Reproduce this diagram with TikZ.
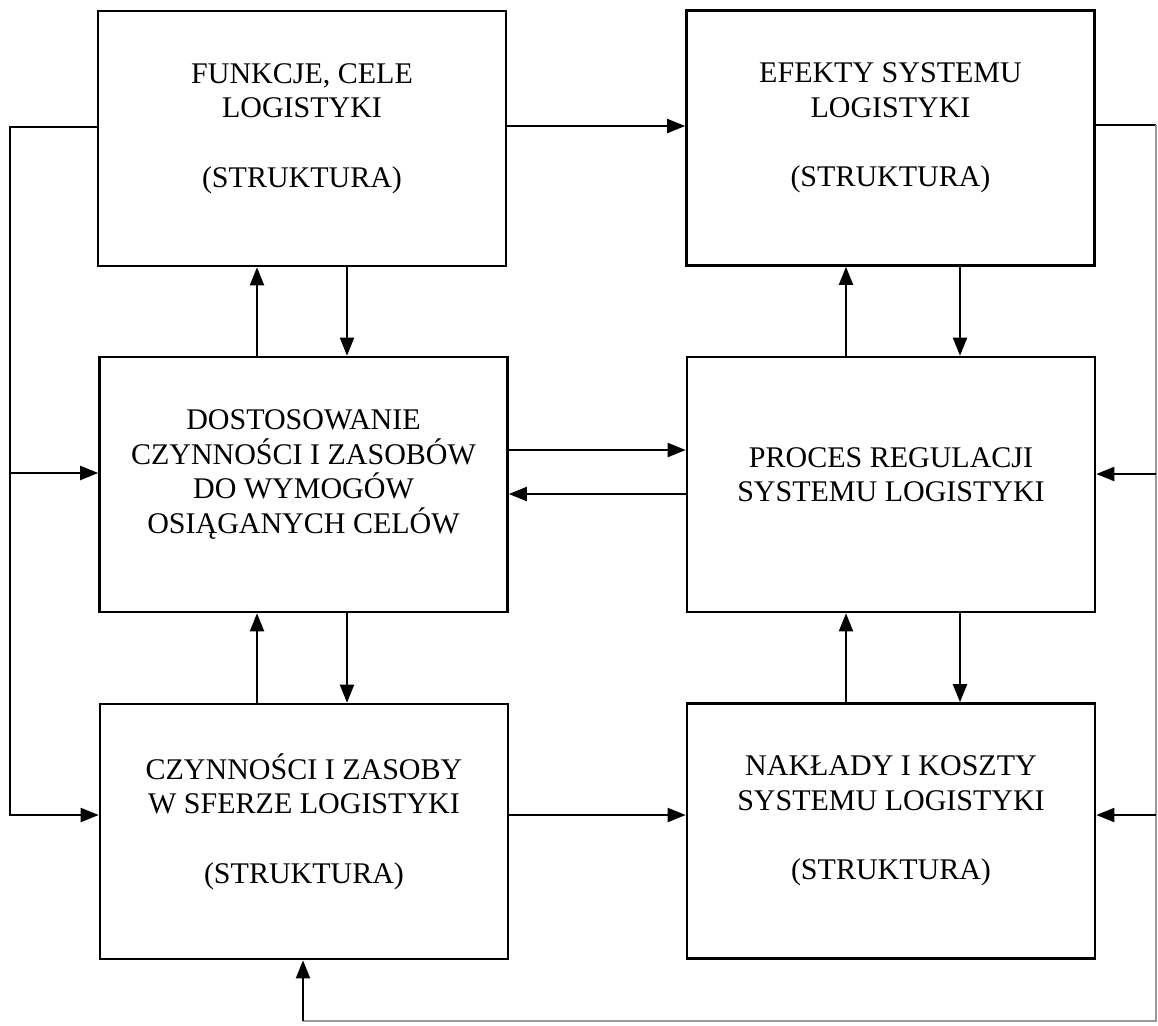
\documentclass[tikz,border=0pt]{standalone}
\usepackage{fontspec}
\setmainfont{Liberation Serif}
\usetikzlibrary{arrows.meta}

\begin{document}
\begin{tikzpicture}[x=0.5pt,y=-0.5pt,
  box/.style={draw, line width=1.3pt, minimum width=204pt, minimum height=127.5pt, inner sep=0pt},
  lbl/.style={align=center, inner sep=0pt, font=\fontsize{15}{17.2}\selectfont},
  wire/.style={line width=1pt},
  faint/.style={line width=1pt, draw=black!40},
  arr/.style={line width=1pt, -{Triangle[length=9pt,width=7pt]}}]

  % canvas
  \fill[white] (0,0) rectangle (1158,1025);
  \useasboundingbox (0,0) rectangle (1158,1025);

  % boxes
  \node[box] (A) at (302,138.5) {};
  \node[box] (B) at (890.5,138) {};
  \node[box] (C) at (303.5,484.5) {};
  \node[box] (D) at (891,484.5) {};
  \node[box] (E) at (304,831.5) {};
  \node[box] (F) at (891,831) {};

  % box captions
  \node[lbl, yshift=5pt] (tA) at (A.center) {FUNKCJE, CELE\\LOGISTYKI\\[17.5pt](STRUKTURA)};
  \node[lbl, yshift=5pt] (tB) at (B.center) {EFEKTY SYSTEMU\\LOGISTYKI\\[17.5pt](STRUKTURA)};
  \node[lbl, yshift=5pt] (tC) at (C.center) {DOSTOSOWANIE\\CZYNNOŚCI I ZASOBÓW\\DO WYMOGÓW\\OSIĄGANYCH CELÓW};
  \node[lbl, yshift=5pt] (tD) at (D.center) {PROCES REGULACJI\\SYSTEMU LOGISTYKI};
  \node[lbl, yshift=5pt] (tE) at (E.center) {CZYNNOŚCI I ZASOBY\\W SFERZE LOGISTYKI\\[17.5pt](STRUKTURA)};
  \node[lbl, yshift=5pt] (tF) at (F.center) {NAKŁADY I KOSZTY\\SYSTEMU LOGISTYKI\\[17.5pt](STRUKTURA)};

  % left feedback rail
  \coordinate (lA) at (10,127);
  \coordinate (lC) at (10,473);
  \coordinate (lE) at (10,815);
  \draw[arr] (A.west |- lA) -- (lA) -- (lE) -- (E.west |- lE);
  \draw[arr] (lC) -- (C.west |- lC);

  % right feedback rail
  \coordinate (rB) at (1156,125);
  \coordinate (rD) at (1156,474);
  \coordinate (rF) at (1156,815);
  \coordinate (rBot) at (1156,1021);
  \coordinate (bE) at (303,1021);
  \draw[wire] (B.east |- rB) -- (rB);
  \draw[faint] (rB) -- (rBot) -- (bE);
  \draw[arr] (bE) -- (E.south -| bE);
  \draw[arr] (rD) -- (D.east |- rD);
  \draw[arr] (rF) -- (F.east |- rF);

  % horizontal links
  \coordinate (yAB) at (0,126);
  \coordinate (yCD) at (0,450);
  \coordinate (yDC) at (0,494);
  \coordinate (yEF) at (0,815);
  \draw[arr] (A.east |- yAB) -- (B.west |- yAB);
  \draw[arr] (C.east |- yCD) -- (D.west |- yCD);
  \draw[arr] (D.west |- yDC) -- (C.east |- yDC);
  \draw[arr] (E.east |- yEF) -- (F.west |- yEF);

  % vertical links, left column
  \coordinate (xL1) at (257,0);
  \coordinate (xL2) at (347,0);
  \draw[arr] (C.north -| xL1) -- (A.south -| xL1);
  \draw[arr] (A.south -| xL2) -- (C.north -| xL2);
  \draw[arr] (E.north -| xL1) -- (C.south -| xL1);
  \draw[arr] (C.south -| xL2) -- (E.north -| xL2);

  % vertical links, right column
  \coordinate (xR1) at (846,0);
  \coordinate (xR2) at (960,0);
  \draw[arr] (D.north -| xR1) -- (B.south -| xR1);
  \draw[arr] (B.south -| xR2) -- (D.north -| xR2);
  \draw[arr] (F.north -| xR1) -- (D.south -| xR1);
  \draw[arr] (D.south -| xR2) -- (F.north -| xR2);
\end{tikzpicture}
\end{document}
